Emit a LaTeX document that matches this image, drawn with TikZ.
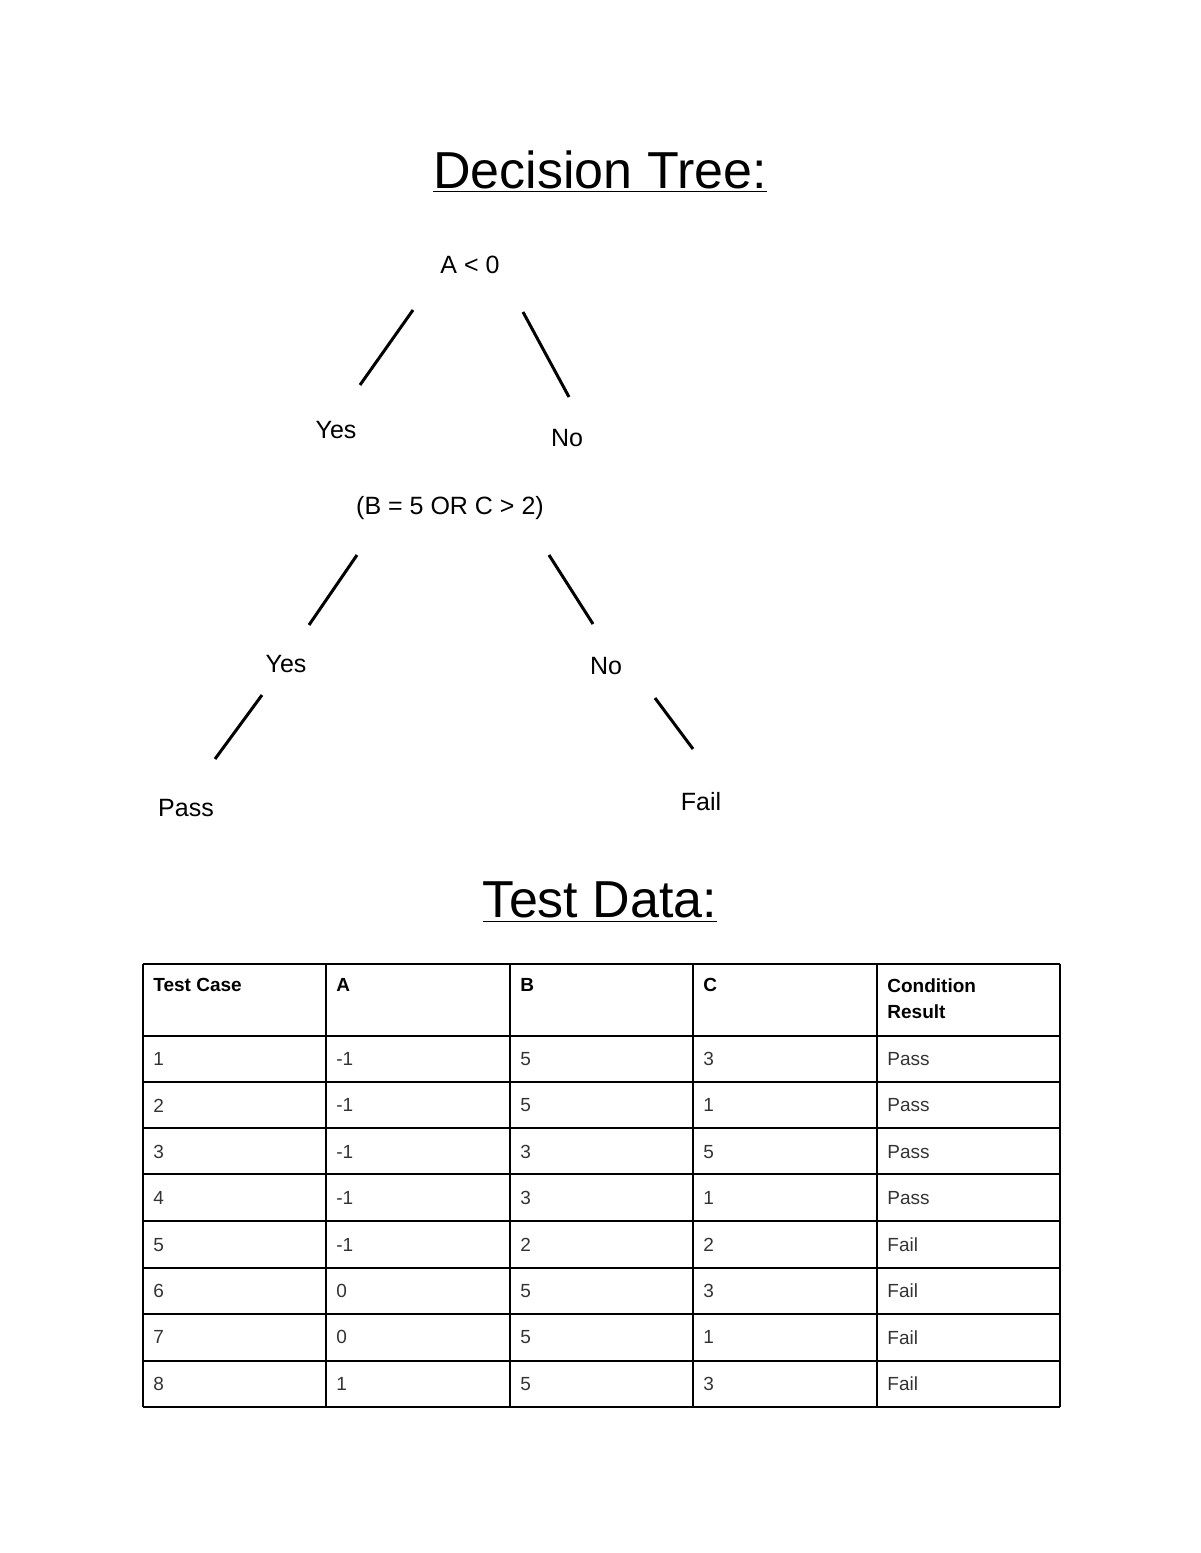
\documentclass[tikz,border=0pt]{standalone}
\usepackage{fontspec}
\setmainfont{Liberation Sans}
\begin{document}
\begin{tikzpicture}[x=0.5pt,y=-0.5pt,
  lbl/.style={font=\fontsize{12.5}{14}\selectfont,inner sep=0pt},
  ttl/.style={font=\fontsize{26}{30}\selectfont,inner sep=0pt},
  cell/.style={font=\fontsize{9.5}{12}\selectfont,inner sep=0pt,anchor=west,text=black!80},
  hcell/.style={font=\fontsize{9.5}{12}\selectfont\bfseries,inner sep=0pt,anchor=north west,align=left},
  br/.style={line width=1.5pt},
  grid/.style={line width=1pt}]
\useasboundingbox (0,0) rectangle (1200,1553);
\node[ttl] (t1) at (600,172) {\underline{Decision Tree:}};
\node[ttl] (t2) at (600,902) {\underline{Test Data:}};
\node[lbl] (a) at (470,265) {A < 0};
\node[lbl] (y1) at (336,430) {Yes};
\node[lbl] (n1) at (567,438) {No};
\node[lbl] (b) at (450,508) {(B = 5 OR C > 2)};
\node[lbl] (y2) at (286,664) {Yes};
\node[lbl] (n2) at (606,666) {No};
\node[lbl] (p) at (186,808) {Pass};
\node[lbl] (f) at (701,802) {Fail};
\coordinate (l1a) at (413,310); \coordinate (l1b) at (360,385);
\coordinate (l2a) at (523,312); \coordinate (l2b) at (569,397);
\coordinate (l3a) at (357,555); \coordinate (l3b) at (309,625);
\coordinate (l4a) at (549,555); \coordinate (l4b) at (593,624);
\coordinate (l5a) at (262,695); \coordinate (l5b) at (215,759);
\coordinate (l6a) at (655,698); \coordinate (l6b) at (693,749);
\draw[br] (l1a)--(l1b); \draw[br] (l2a)--(l2b); \draw[br] (l3a)--(l3b);
\draw[br] (l4a)--(l4b); \draw[br] (l5a)--(l5b); \draw[br] (l6a)--(l6b);
% table
\foreach \x in {143,326,510,693,877,1060} \draw[grid] (\x,964)--(\x,1407);
\foreach \y in {964,1036,1082,1128,1174,1221,1268,1314,1361,1407} \draw[grid] (143,\y)--(1060,\y);
\node[hcell] (h1) at (153,978) {Test Case};
\node[hcell] (h2) at (336,978) {A};
\node[hcell] (h3) at (520,978) {B};
\node[hcell] (h4) at (703,978) {C};
\node[hcell] (h5) at (887,978) {Condition\\[1pt]Result};
\foreach \r/\ta/\tb/\tc/\td/\te in {0/1/-1/5/3/Pass,1/2/-1/5/1/Pass,2/3/-1/3/5/Pass,3/4/-1/3/1/Pass,4/5/-1/2/2/Fail,5/6/0/5/3/Fail,6/7/0/5/1/Fail,7/8/1/5/3/Fail}{
  \pgfmathsetmacro\yy{1059+46.4*\r}
  \node[cell] at (153,\yy) {\ta};
  \node[cell] at (336,\yy) {\tb};
  \node[cell] at (520,\yy) {\tc};
  \node[cell] at (703,\yy) {\td};
  \node[cell] at (887,\yy) {\te};
}
\end{tikzpicture}
\end{document}
